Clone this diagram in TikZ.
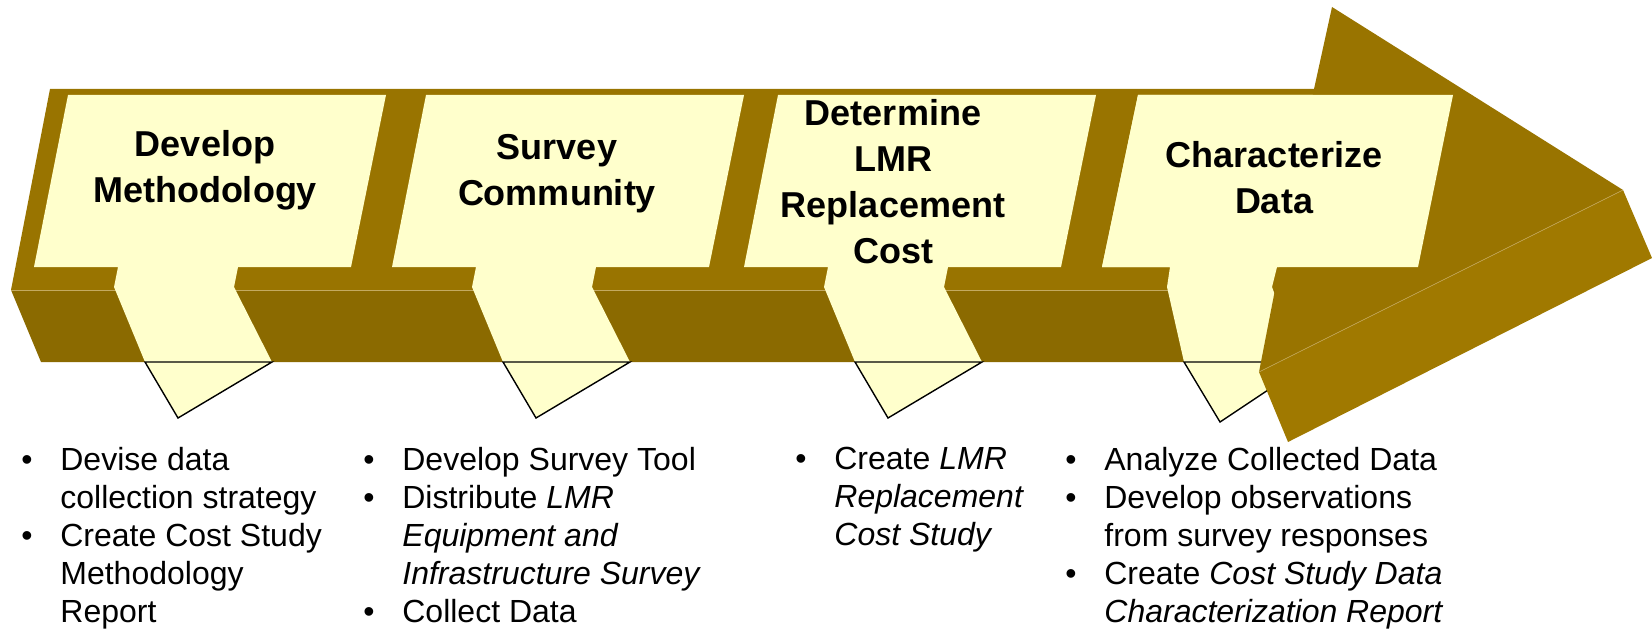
\documentclass[tikz,border=0pt]{standalone}
\usepackage{fontspec}
\setmainfont{Liberation Sans}
\usetikzlibrary{positioning}
\definecolor{goldtop}{RGB}{153,116,0}
\definecolor{goldfront}{RGB}{139,106,0}
\definecolor{goldhead}{RGB}{160,121,0}
\definecolor{goldedge}{RGB}{196,170,96}
\definecolor{cream}{RGB}{255,255,204}
\newcommand{\callout}[1]{
  \fill[cream,shift={(#1,0)}] (0,95) -- (318,95) -- (283,267) -- (170,267)
    -- (166,287) -- (204,362) -- (110,418) -- (77,362) -- (46,287)
    -- (50,267) -- (-34,267) -- cycle;
  \draw[tipline,shift={(#1,0)}] (77,362) -- (204,362) -- (110,418) -- cycle;
}
\newcommand{\itm}{\makebox[19.5pt][l]{\textbullet}}
\newcommand{\cnt}{\hspace*{19.5pt}}
\tikzset{
  tipline/.style  = {black, line width=0.7pt},
  steptitle/.style = {inner sep=0pt, align=center,
                      font=\bfseries\fontsize{18}{23}\selectfont},
  steplist/.style  = {inner sep=0pt, align=left, anchor=north west,
                      font=\fontsize{16}{19}\selectfont}
}

\begin{document}
\begin{tikzpicture}[x=0.5pt,y=-0.5pt]
	\useasboundingbox (0,0) rectangle (1652,631);
	% shaft of the arrow
	\fill[goldtop] (50,89) -- (1320,89) -- (1300,290) -- (11,290) -- cycle;
	\fill[goldfront] (11,290) -- (1300,290) -- (1300,362) -- (41,362) -- cycle;
	\draw[goldedge,line width=0.4pt] (11,290) -- (1266,290);
	% the four steps
	\callout{68}
	\callout{426}
	\callout{778}
	\fill[cream] (1138,95) -- (1453,95) -- (1418,267) -- (1277,267) -- (1272,287)
		-- (1300,362) -- (1310,362) -- (1220,422) -- (1184,362) -- (1167,287)
		-- (1170,267) -- (1102,267) -- cycle;
	\draw[tipline] (1184,362) -- (1310,362) -- (1220,422) -- cycle;
	% head of the arrow
	\fill[goldtop] (1314,89) -- (1332,7) -- (1623,190) -- (1259,372) -- cycle;
	\fill[goldhead] (1259,372) -- (1623,190) -- (1652,258) -- (1288,442) -- cycle;
	\draw[goldedge,line width=0.3pt] (1259,372) -- (1623,190);
	\fill[cream] (1138,95) -- (1453,95) -- (1418,267) -- (1102,267) -- cycle;
	% titles
	\node[steptitle] (t1) at (205,170) {Develop\\Methodology};
	\node[steptitle] (t2) at (557,174) {Survey\\Community};
	\node[steptitle] (t3) at (893,182) {Determine\\LMR\\Replacement\\Cost};
	\node[steptitle] (t4) at (1274,178) {Characterize\\Data};
	% tasks
	\node[steplist] (l1) at (21,447) {\itm Devise data\\ \cnt collection strategy\\
		\itm Create Cost Study\\ \cnt Methodology\\ \cnt Report};
	\node[steplist] (l2) at (363,447) {\itm Develop Survey Tool\\
		\itm Distribute \textit{LMR}\\ \cnt\textit{Equipment and}\\
		\cnt\textit{Infrastructure Survey}\\ \itm Collect Data};
	\node[steplist] (l3) at (795,447) {\itm Create \textit{LMR}\\
		\cnt\textit{Replacement}\\ \cnt\textit{Cost Study}};
	\node[steplist] (l4) at (1065,447) {\itm Analyze Collected Data\\
		\itm Develop observations\\ \cnt from survey responses\\
		\itm Create \textit{Cost Study Data}\\ \cnt\textit{Characterization Report}};
\end{tikzpicture}
\end{document}
